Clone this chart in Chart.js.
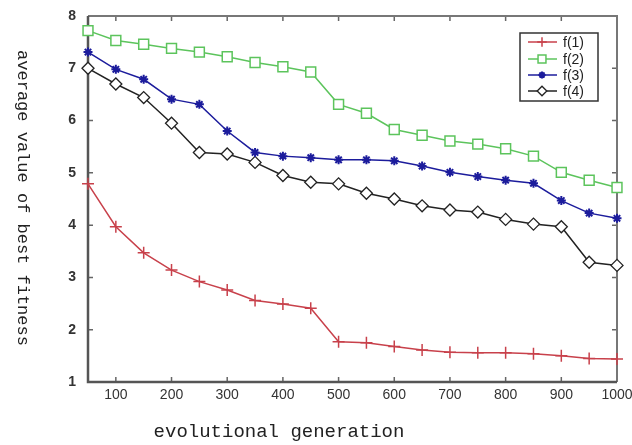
<!DOCTYPE html>
<html>
<head>
<meta charset="utf-8">
<script src="https://cdn.jsdelivr.net/npm/chart.js@4.4.0/dist/chart.umd.min.js"></script>
<style>
  html, body { margin: 0; padding: 0; background: #fff; }
  #wrap { width: 632px; height: 445px; position: relative; }
</style>
</head>
<body>
<div id="wrap"><canvas id="fitChart"></canvas></div>
<script>
// generations sampled every 50
const generations = [50, 100, 150, 200, 250, 300, 350, 400, 450, 500, 550, 600, 650, 700, 750, 800, 850, 900, 950, 1000];
const f1 = [4.79, 3.97, 3.47, 3.14, 2.92, 2.76, 2.56, 2.49, 2.41, 1.77, 1.75, 1.68, 1.61, 1.57, 1.56, 1.56, 1.54, 1.50, 1.45, 1.44];
const f2 = [7.72, 7.53, 7.46, 7.38, 7.31, 7.22, 7.11, 7.03, 6.93, 6.31, 6.14, 5.83, 5.72, 5.61, 5.55, 5.46, 5.32, 5.01, 4.86, 4.72];
const f3 = [7.31, 6.98, 6.79, 6.41, 6.31, 5.80, 5.39, 5.32, 5.29, 5.25, 5.25, 5.23, 5.13, 5.01, 4.93, 4.86, 4.80, 4.47, 4.23, 4.13];
const f4 = [7.00, 6.70, 6.44, 5.95, 5.39, 5.36, 5.20, 4.95, 4.82, 4.79, 4.61, 4.50, 4.37, 4.29, 4.25, 4.11, 4.02, 3.97, 3.29, 3.23];
const xTicks = [100, 200, 300, 400, 500, 600, 700, 800, 900, 1000];
const yTicks = [1, 2, 3, 4, 5, 6, 7, 8];
const seriesNames = ['f(1)', 'f(2)', 'f(3)', 'f(4)'];

function toPoints(values) {
    return generations.map((g, i) => ({ x: g, y: values[i] }));
}

const ctxEl = document.getElementById('fitChart');

// frame, inward ticks, axis titles, legend box
const matlabFrame = {
    id: 'matlabFrame',
    beforeDatasetsDraw(chart) {
        const { ctx, chartArea: a, scales } = chart;
        ctx.save();
        ctx.strokeStyle = '#666';
        ctx.lineWidth = 1.5;
        ctx.beginPath();
        xTicks.forEach(v => {
            const px = scales.x.getPixelForValue(v);
            ctx.moveTo(px, a.bottom); ctx.lineTo(px, a.bottom - 5);
            ctx.moveTo(px, a.top); ctx.lineTo(px, a.top + 5);
        });
        yTicks.forEach(v => {
            const py = scales.y.getPixelForValue(v);
            ctx.moveTo(a.left, py); ctx.lineTo(a.left + 5, py);
            ctx.moveTo(a.right, py); ctx.lineTo(a.right - 5, py);
        });
        ctx.stroke();
        // top/right thinner
        ctx.strokeStyle = '#777';
        ctx.lineWidth = 2;
        ctx.beginPath();
        ctx.moveTo(a.left, a.top); ctx.lineTo(a.right, a.top); ctx.lineTo(a.right, a.bottom);
        ctx.stroke();
        ctx.strokeStyle = '#555';
        ctx.lineWidth = 2.5;
        ctx.beginPath();
        ctx.moveTo(a.left, a.top); ctx.lineTo(a.left, a.bottom); ctx.lineTo(a.right, a.bottom);
        ctx.stroke();
        ctx.restore();
    },
    afterDraw(chart) {
        const ctx = chart.ctx;
        ctx.save();
        ctx.fillStyle = '#222';
        // y title reads top to bottom
        ctx.font = '17px "Liberation Mono", monospace';
        ctx.textAlign = 'center';
        ctx.textBaseline = 'middle';
        ctx.translate(22, 198);
        ctx.rotate(Math.PI / 2);
        ctx.fillText('average value of best fitness', 0, 0);
        ctx.restore();

        ctx.save();
        ctx.fillStyle = '#222';
        ctx.font = '19px "Liberation Mono", monospace';
        ctx.textAlign = 'center';
        ctx.textBaseline = 'middle';
        ctx.fillText('evolutional generation', 279, 432);
        ctx.restore();

        // legend
        ctx.save();
        ctx.fillStyle = '#fff';
        ctx.fillRect(520, 33, 78, 68);
        ctx.strokeStyle = '#333';
        ctx.lineWidth = 1.5;
        ctx.strokeRect(520, 33, 78, 68);
        const rows = [42, 59, 75, 91];
        chart.data.datasets.forEach((ds, i) => {
            const y = rows[i];
            ctx.strokeStyle = ds.borderColor;
            ctx.lineWidth = 1.5;
            ctx.beginPath();
            ctx.moveTo(528, y); ctx.lineTo(557, y);
            ctx.stroke();
            ctx.fillStyle = ds.pointBackgroundColor;
            ctx.strokeStyle = ds.borderColor;
            ctx.lineWidth = ds.pointBorderWidth;
            Chart.helpers.drawPoint(ctx, {
                pointStyle: ds.pointStyle,
                radius: ds.pointRadius * 0.8,
                rotation: 0,
                borderWidth: ds.pointBorderWidth
            }, 542, y);
            ctx.fillStyle = '#222';
            ctx.font = '14px "Liberation Sans", Arial, sans-serif';
            ctx.textAlign = 'left';
            ctx.textBaseline = 'middle';
            ctx.fillText(ds.label, 563, y + 1);
        });
        ctx.restore();
    }
};

new Chart(ctxEl, {
    type: 'line',
    data: {
        datasets: [
            {
                label: seriesNames[0],
                data: toPoints(f1),
                borderColor: '#c8414b',
                pointBackgroundColor: '#c8414b',
                pointBorderColor: '#c8414b',
                pointStyle: 'cross',
                pointRadius: 6,
                pointBorderWidth: 1.5,
                borderWidth: 1.5
            },
            {
                label: seriesNames[1],
                data: toPoints(f2),
                borderColor: '#5cc45c',
                pointBackgroundColor: '#ffffff',
                pointBorderColor: '#5cc45c',
                pointStyle: 'rect',
                pointRadius: 7,
                pointBorderWidth: 1.5,
                borderWidth: 1.5
            },
            {
                label: seriesNames[2],
                data: toPoints(f3),
                borderColor: '#1c1c9c',
                pointBackgroundColor: '#1c1c9c',
                pointBorderColor: '#1c1c9c',
                pointStyle: 'star',
                pointRadius: 4.5,
                pointBorderWidth: 2,
                borderWidth: 1.5
            },
            {
                label: seriesNames[3],
                data: toPoints(f4),
                borderColor: '#222222',
                pointBackgroundColor: '#ffffff',
                pointBorderColor: '#222222',
                pointStyle: 'rectRot',
                pointRadius: 6,
                pointBorderWidth: 1.3,
                borderWidth: 1.5
            }
        ]
    },
    options: {
        responsive: true,
        maintainAspectRatio: false,
        animation: false,
        layout: { padding: { left: 0, right: 15, top: 16, bottom: 0 } },
        elements: { line: { tension: 0 } },
        datasets: { line: { clip: false } },
        plugins: {
            legend: { display: false },
            tooltip: { enabled: false }
        },
        scales: {
            x: {
                type: 'linear',
                min: 50,
                max: 1000,
                afterBuildTicks: s => { s.ticks = xTicks.map(v => ({ value: v })); },
                afterFit: s => { s.height = 63; s.paddingRight = 0; s.paddingLeft = 0; },
                grid: { display: false, drawTicks: false },
                border: { display: false },
                ticks: {
                    padding: 5,
                    maxRotation: 0,
                    autoSkip: false,
                    color: '#333',
                    callback: v => String(v),
                    font: { family: '"Liberation Sans", Arial, sans-serif', size: 14 }
                }
            },
            y: {
                min: 1,
                max: 8,
                afterBuildTicks: s => { s.ticks = yTicks.map(v => ({ value: v })); },
                afterFit: s => { s.width = 88; s.paddingTop = 0; s.paddingBottom = 0; },
                grid: { display: false, drawTicks: false },
                border: { display: false },
                ticks: {
                    padding: 12,
                    color: '#333',
                    callback: v => String(v),
                    font: { family: '"Liberation Sans", Arial, sans-serif', size: 14, weight: 'bold' }
                }
            }
        }
    },
    plugins: [matlabFrame]
});
</script>
</body>
</html>
